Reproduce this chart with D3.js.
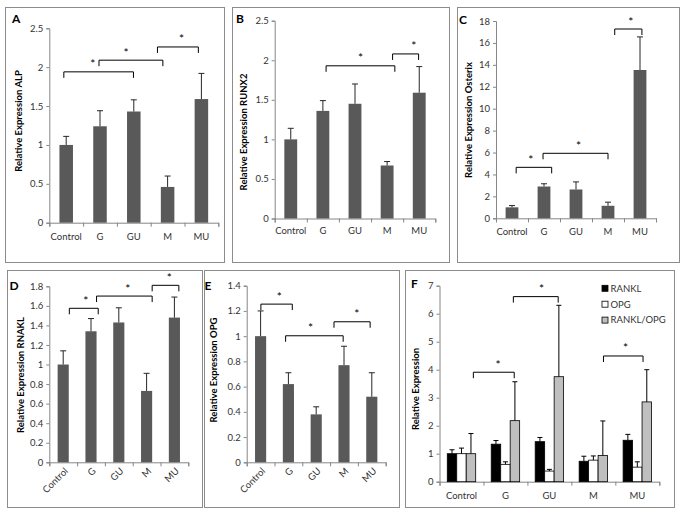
<!DOCTYPE html>
<html><head><meta charset="utf-8">
<script src="https://cdn.jsdelivr.net/npm/d3@7"></script>
<style>
body{margin:0;background:#fff}
text{font-family:Lato,'Open Sans',sans-serif}
</style>
</head><body>
<svg id="chart" width="683" height="514"></svg>
<script>
// ---------- DATA ----------
const categories = ["Control", "G", "GU", "M", "MU"];

const alpMean = [1.00, 1.24, 1.43, 0.46, 1.59];
const alpErr  = [0.11, 0.20, 0.15, 0.14, 0.33];
const alpTicks = [0, 0.5, 1, 1.5, 2, 2.5];

const runx2Mean = [1.00, 1.36, 1.45, 0.67, 1.59];
const runx2Err  = [0.14, 0.13, 0.25, 0.05, 0.33];
const runx2Ticks = [0, 0.5, 1, 1.5, 2, 2.5];

const osterixMean = [1.00, 2.90, 2.63, 1.14, 13.53];
const osterixErr  = [0.16, 0.25, 0.69, 0.33, 3.02];
const osterixTicks = [0, 2, 4, 6, 8, 10, 12, 14, 16, 18];

const ranklMean = [1.00, 1.34, 1.43, 0.73, 1.48];
const ranklErr  = [0.14, 0.13, 0.15, 0.18, 0.21];
const ranklTicks = [0, 0.2, 0.4, 0.6, 0.8, 1, 1.2, 1.4, 1.6, 1.8];

const opgMean = [1.00, 0.62, 0.38, 0.77, 0.52];
const opgErr  = [0.20, 0.09, 0.06, 0.15, 0.19];
const opgTicks = [0, 0.2, 0.4, 0.6, 0.8, 1, 1.2, 1.4];

const ratioMean = [1.00, 2.18, 3.75, 0.94, 2.85];
const ratioErr  = [0.72, 1.39, 2.55, 1.23, 1.15];
const relTicks = [0, 1, 2, 3, 4, 5, 6, 7];
const seriesF = ["RANKL", "OPG", "RANKL/OPG"];

// significance brackets: [from (category units), to, level (data units), star position (category units)]
const alpSig     = [[-0.07, 1.99, 1.94, 0.79], [0.97, 2.86, 2.09, 1.77], [2.70, 3.91, 2.26, 3.41]];
const runx2Sig   = [[1.10, 3.24, 1.93, 2.17], [3.17, 3.98, 2.08, 3.83]];
const osterixSig = [[0.13, 1.24, 4.65, 0.59], [0.97, 3.00, 5.93, 2.08], [3.21, 4.06, 17.27, 3.71]];
const ranklSig   = [[0.22, 1.26, 1.575, 0.81], [1.20, 3.20, 1.70, 2.32], [3.20, 4.16, 1.81, 3.82]];
const opgSig     = [[0.01, 1.14, 1.254, 0.67], [0.90, 2.97, 1.003, 1.80], [2.64, 3.94, 1.114, 3.46]];
const relSig     = [[0.27, 1.20, 3.91, 0.83], [1.18, 2.20, 6.61, 1.82], [3.23, 4.13, 4.49, 3.73]];

// ---------- DRAWING ----------
const svg = d3.select("#chart");
const AX = "#868686", TXT = "#333333";
const fmt = d3.format("~g");

const panels = [
  {letter:"A", box:[5,7,224,262], xr:[49.3,218.3], yr:[222.7,28.3], dom:[0,2.5], ticks:alpTicks,
   series:[[alpMean, alpErr]], sig:alpSig, ylab:"Relative Expression ALP", ylx:18.5, yly:121, lp:[12,23], rot:false, lab:240},
  {letter:"B", box:[232,7,449,262], xr:[274.7,435.3], yr:[218.5,20.7], dom:[0,2.5], ticks:runx2Ticks,
   series:[[runx2Mean, runx2Err]], sig:runx2Sig, ylab:"Relative Expression RUNX2", ylx:243.5, yly:132, lp:[236,23], rot:false, lab:233.5},
  {letter:"C", box:[457,7,679,262], xr:[496,656], yr:[218.3,21], dom:[0,18], ticks:osterixTicks,
   series:[[osterixMean, osterixErr]], sig:osterixSig, ylab:"Relative Expression Osterix", ylx:468.5, yly:120, lp:[459,24], rot:false, lab:235},
  {letter:"D", box:[7,270,202,507], xr:[49.3,188.3], yr:[462.3,286.3], dom:[0,1.8], ticks:ranklTicks,
   series:[[ranklMean, ranklErr]], sig:ranklSig, ylab:"Relative Expression RNAKL", ylx:20.5, yly:375, lp:[9.5,290], rot:true},
  {letter:"E", box:[204,270,399,507], xr:[246.7,385.7], yr:[462.3,285.7], dom:[0,1.4], ticks:opgTicks,
   series:[[opgMean, opgErr]], sig:opgSig, ylab:"Relative Expression OPG", ylx:213.5, yly:370, lp:[204.5,290], rot:true},
  {letter:"F", box:[405,270,674,507], xr:[439.5,659.3], yr:[481.7,285.7], dom:[0,7], ticks:relTicks,
   series:[[ranklMean, ranklErr],[opgMean, opgErr],[ratioMean, ratioErr]], sig:relSig, ylab:"Relative Expression", ylx:415.5, yly:389, lp:[411,288], rot:false, lab:498.5, legend:true}
];

const fFill = ["#000000", "#ffffff", "#bfbfbf"];

panels.forEach(p => {
  const g = svg.append("g");
  g.append("rect").attr("x", p.box[0]+0.5).attr("y", p.box[1]+0.5)
    .attr("width", p.box[2]-p.box[0]).attr("height", p.box[3]-p.box[1])
    .attr("fill", "#fff").attr("stroke", "#8c8c8c").attr("stroke-width", 1);

  const x = d3.scaleBand().domain(categories).range(p.xr).padding(0);
  const cu = d3.scaleLinear().domain([-0.5, 4.5]).range(p.xr); // category units
  const y = d3.scaleLinear().domain(p.dom).range(p.yr);
  const bw = x.bandwidth();

  // y axis
  const ya = g.append("g").attr("transform", `translate(${p.xr[0]},0)`)
    .call(d3.axisLeft(y).tickValues(p.ticks).tickSize(3).tickPadding(3).tickFormat(fmt));
  ya.select(".domain").attr("stroke", AX);
  ya.selectAll(".tick line").attr("stroke", AX);
  ya.selectAll(".tick text").attr("fill", TXT).style("font-size", "9.5px").style("font-family", "Lato, sans-serif");

  // x axis (boundary ticks)
  const bx = d3.scaleLinear().domain([0, 5]).range(p.xr);
  const xa = g.append("g").attr("transform", `translate(0,${p.yr[0]})`)
    .call(d3.axisBottom(bx).tickValues([0,1,2,3,4,5]).tickSize(4).tickFormat(""));
  xa.select(".domain").attr("stroke", AX);
  xa.selectAll(".tick line").attr("stroke", AX);

  // category labels
  if (p.rot) {
    g.selectAll(".cl").data(categories).enter().append("text")
      .attr("transform", d => `translate(${x(d)+bw/2+3},${p.yr[0]+7}) rotate(-45)`)
      .attr("text-anchor", "end").attr("dy", "0.35em")
      .attr("fill", TXT).style("font-size", "9.5px").text(d => d);
  } else {
    g.selectAll(".cl").data(categories).enter().append("text")
      .attr("x", d => x(d)+bw/2).attr("y", p.lab)
      .attr("text-anchor", "middle")
      .attr("fill", TXT).style("font-size", "9.5px").text(d => d);
  }

  // bars
  if (p.series.length === 1) {
    const [mean, err] = p.series[0];
    const w = bw*0.4;
    const data = categories.map((c,i) => ({c, v: mean[i], e: err[i]}));
    g.selectAll(".bar").data(data).enter().append("rect")
      .attr("x", d => x(d.c)+(bw-w)/2).attr("width", w)
      .attr("y", d => y(d.v)).attr("height", d => y(0)-y(d.v))
      .attr("fill", "#595959");
    const eb = g.selectAll(".eb").data(data).enter().append("g");
    eb.append("line").attr("x1", d => x(d.c)+bw/2).attr("x2", d => x(d.c)+bw/2)
      .attr("y1", d => y(d.v)).attr("y2", d => y(d.v+d.e)).attr("stroke", "#262626").attr("stroke-width", 1);
    eb.append("line").attr("x1", d => x(d.c)+bw/2-3).attr("x2", d => x(d.c)+bw/2+3)
      .attr("y1", d => y(d.v+d.e)).attr("y2", d => y(d.v+d.e)).attr("stroke", "#262626").attr("stroke-width", 1);
  } else {
    const x1 = d3.scaleBand().domain(seriesF).range([0, bw]).paddingInner(0).paddingOuter(0.82);
    seriesF.forEach((s, si) => {
      const [mean, err] = p.series[si];
      const data = categories.map((c,i) => ({c, v: mean[i], e: err[i]}));
      const w = x1.bandwidth();
      g.selectAll(".bar"+si).data(data).enter().append("rect")
        .attr("x", d => x(d.c)+x1(s)).attr("width", w)
        .attr("y", d => y(d.v)).attr("height", d => y(0)-y(d.v))
        .attr("fill", fFill[si]).attr("stroke", "#000").attr("stroke-width", 0.8);
      const eb = g.selectAll(".eb"+si).data(data).enter().append("g");
      const cx = d => x(d.c)+x1(s)+w/2;
      eb.append("line").attr("x1", cx).attr("x2", cx)
        .attr("y1", d => y(d.v)).attr("y2", d => y(d.v+d.e)).attr("stroke", "#000").attr("stroke-width", 1);
      eb.append("line").attr("x1", d => cx(d)-2.5).attr("x2", d => cx(d)+2.5)
        .attr("y1", d => y(d.v+d.e)).attr("y2", d => y(d.v+d.e)).attr("stroke", "#000").attr("stroke-width", 1);
    });
  }

  // significance brackets
  p.sig.forEach(([a, b, lv, st]) => {
    const yy = y(lv);
    g.append("path")
      .attr("d", `M${cu(a)},${yy+6}V${yy}H${cu(b)}V${yy+6}`)
      .attr("fill", "none").attr("stroke", "#000").attr("stroke-width", 1);
    g.append("text").attr("x", cu(st)).attr("y", yy-3.5)
      .attr("text-anchor", "middle").attr("fill", "#000").style("font-size", "12px").text("*");
  });

  // y label
  g.append("text").attr("transform", `translate(${p.ylx},${p.yly}) rotate(-90)`)
    .attr("text-anchor", "middle").attr("dy", "0.35em")
    .attr("fill", "#000").style("font-size", "9.5px").style("font-weight", "bold").text(p.ylab);

  // panel letter
  g.append("text").attr("x", p.lp[0]).attr("y", p.lp[1])
    .attr("fill", "#000").style("font-size", "12px").style("font-weight", "bold").text(p.letter);

  // legend
  if (p.legend) {
    const lg = g.selectAll(".lg").data(seriesF).enter().append("g")
      .attr("transform", (d,i) => `translate(602,${288.3 + i*15.9})`);
    lg.append("rect").attr("x", 0).attr("y", -3).attr("width", 6).attr("height", 6)
      .attr("fill", (d,i) => fFill[i]).attr("stroke", "#000").attr("stroke-width", 0.8);
    lg.append("text").attr("x", 8.5).attr("y", 0).attr("dy", "0.35em")
      .attr("fill", TXT).style("font-size", "9.5px").text(d => d);
  }
});
</script>
</body></html>
